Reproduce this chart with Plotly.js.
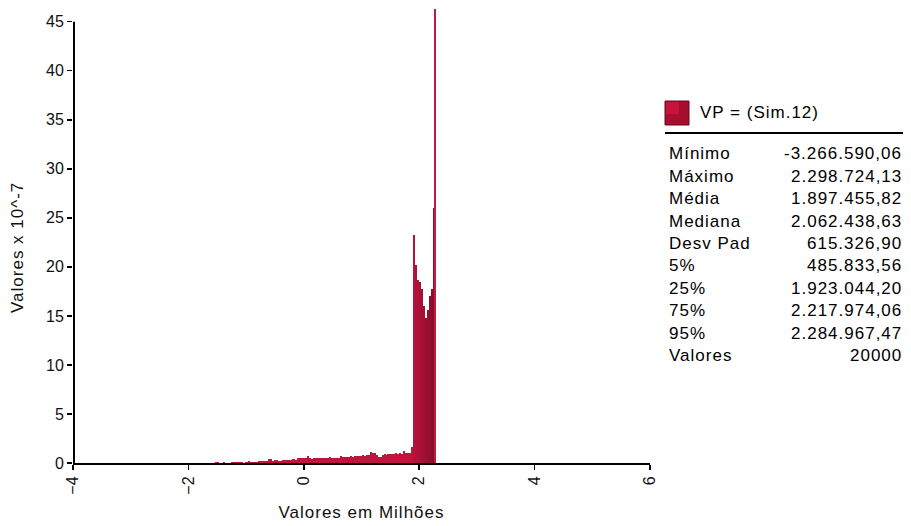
<!DOCTYPE html>
<html><head><meta charset="utf-8">
<script src="https://cdn.plot.ly/plotly-3.0.1.min.js"></script>
<style>
html,body{margin:0;padding:0;background:#fff;}
#chart{width:911px;height:526px;}
.annotation-text, .xtitle, .ytitle { letter-spacing: 1px; }
</style></head><body><div id="chart"></div>
<script>
// ---- data ----
const seriesName = 'VP = (Sim.12)';
const binStart = -3.26659006;   // Mínimo (milhões)
const binEnd = 2.29872413;      // Máximo (milhões)
const binCount = 164;
// density values (x 10^-7) per bin
const density = [
  0,0,0,0,0,0,0,0,0,0, 0,0,0,0,0,0,0,0,0,0,
  0,0,0,0,0,0,0,0,0,0, 0,0,0,0,0,0,0,0,0,0,
  0,0,0,0,0,0,0,0,0,0, 0,
  0.15,0.15,0,0,0.15,0,0,0,0.1,0.15,
  0.15,0.15,0.15,0.15,0.05,0.15,0.15,0.2,0.15,0.15,
  0.15,0.1,0.2,0.2,0.2,0.25,0.2,0.4,0.45,0.2,
  0.35,0.35,0.25,0.25,0.3,0.35,0.35,0.3,0.3,0.45,
  0.45,0.35,0.55,0.5,0.55,0.5,0.55,0.75,0.5,0.45,
  0.5,0.55,0.5,0.5,0.55,0.5,0.55,0.5,0.65,0.5,
  0.55,0.5,0.55,0.5,0.7,0.6,0.65,0.6,0.6,0.7,
  0.65,0.75,0.7,0.7,0.75,0.8,0.75,0.8,0.8,1.1,
  1.0,1.0,0.8,0.6,0.65,0.85,0.9,0.85,0.95,0.9,
  0.95,0.9,1.0,0.95,1.0,0.95,1.2,1.0,1.0,1.05,
  1.6,
  23.3,20.2,18.7,18.5,17.7,16.0,14.8,15.6,17.0,17.7,26.0,46.3
];
const xTickVals = [-4, -2, 0, 2, 4, 6];
const yTickVals = [0, 5, 10, 15, 20, 25, 30, 35, 40, 45];
const xTitle = 'Valores em Milhões';
const yTitle = 'Valores x 10^-7';
const statLabels = ['Mínimo','Máximo','Média','Mediana','Desv Pad','5%','25%','75%','95%','Valores'];
const statValues = ['-3.266.590,06','2.298.724,13','1.897.455,82','2.062.438,63','615.326,90',
                    '485.833,56','1.923.044,20','2.217.974,06','2.284.967,47','20000'];

// ---- build ----
const binWidth = (binEnd - binStart) / binCount;
const xCenters = density.map((_, i) => binStart + (i + 0.5) * binWidth);

function mix(a, b, t) {
  const pa = [parseInt(a.slice(1,3),16), parseInt(a.slice(3,5),16), parseInt(a.slice(5,7),16)];
  const pb = [parseInt(b.slice(1,3),16), parseInt(b.slice(3,5),16), parseInt(b.slice(5,7),16)];
  return 'rgb(' + pa.map((v, k) => Math.round(v + (pb[k] - v) * t)).join(',') + ')';
}
const firstTall = density.findIndex(v => v > 5);
const colors = density.map((v, i) => {
  if (i < firstTall) return '#bf143c';
  if (i >= density.length - 1) return '#c31a42';
  const t = (i - firstTall) / Math.max(1, density.length - 2 - firstTall);
  return mix('#b8123a', '#8a0c29', t);
});

const W = 911, H = 526;
const M = {l: 73, r: 261, t: 7, b: 63};
const pw = W - M.l - M.r, ph = H - M.t - M.b;
const px = x => (x - M.l) / pw;
const py = y => (H - M.b - y) / ph;

const FONT = 'Liberation Sans, Arial, sans-serif';

const annotations = [];
// y axis title (centred on the 0..45 span of the axis line)
annotations.push({xref:'paper', yref:'paper', x: px(18), y: py(248), xanchor:'center', yanchor:'middle',
  textangle:-90, text: yTitle, showarrow:false, font:{family:FONT, size:17, color:'#111'}});
annotations.push({xref:'paper', yref:'paper', x: px(698), y: py(113), xanchor:'left', yanchor:'middle',
  text: seriesName, showarrow:false, font:{family:FONT, size:17, color:'#000'}});
statLabels.forEach((lab, i) => {
  const yc = 154 + 22.4 * i;
  annotations.push({xref:'paper', yref:'paper', x: px(667), y: py(yc), xanchor:'left', yanchor:'middle',
    text: lab, showarrow:false, font:{family:FONT, size:17, color:'#000'}});
  annotations.push({xref:'paper', yref:'paper', x: px(904), y: py(yc), xanchor:'right', yanchor:'middle',
    text: statValues[i], showarrow:false, font:{family:FONT, size:17, color:'#000'}});
});

const shapes = [
  // y axis line from 0 to 45
  {type:'line', xref:'paper', yref:'y', x0:px(74), x1:px(74), y0:0, y1:45, line:{color:'#000', width:2}},
  // legend swatch
  {type:'rect', xref:'paper', yref:'paper', x0:px(665), x1:px(689), y0:py(125), y1:py(101),
   fillcolor:'#a80f2e', line:{color:'#6a0818', width:1}},
  {type:'rect', xref:'paper', yref:'paper', x0:px(666), x1:px(679), y0:py(114), y1:py(102),
   fillcolor:'#c8133a', line:{width:0}},
  // header underline
  {type:'line', xref:'paper', yref:'paper', x0:px(665), x1:px(903), y0:py(133), y1:py(133),
   line:{color:'#000', width:2}}
];

const trace = {
  type:'bar', name: seriesName, x: xCenters, y: density, width: binWidth,
  marker:{color: colors, line:{width:0}}, showlegend:false,
  hovertemplate:'%{x:.3f}: %{y:.2f}<extra></extra>'
};

const layout = {
  width: W, height: H, margin: M,
  paper_bgcolor:'#fff', plot_bgcolor:'#fff',
  bargap: 0,
  font:{family:FONT, color:'#000'},
  xaxis:{range:[-4, 6], tickmode:'array', tickvals:xTickVals, tickangle:-90,
    ticks:'outside', ticklen:5, tickwidth:1.5, tickcolor:'#000',
    showline:true, linewidth:2, linecolor:'#000', showgrid:false, zeroline:false,
    tickfont:{family:FONT, size:16, color:'#111'},
    title:{text: xTitle, font:{family:FONT, size:17, color:'#111'}, standoff:12}},
  yaxis:{range:[0, 46.5], tickmode:'array', tickvals:yTickVals,
    ticks:'outside', ticklen:5, tickwidth:1.5, tickcolor:'#000',
    showline:false, showgrid:false, zeroline:false,
    tickfont:{family:FONT, size:16, color:'#111'}},
  shapes: shapes,
  annotations: annotations
};

Plotly.newPlot('chart', [trace], layout, {displayModeBar:false, staticPlot:true});
</script></body></html>
